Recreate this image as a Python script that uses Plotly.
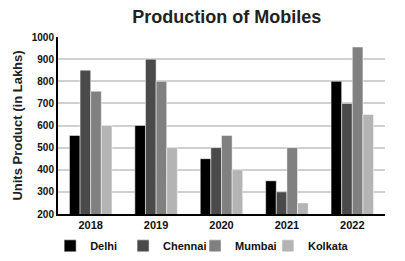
import plotly.graph_objects as go

years = ["2018", "2019", "2020", "2021", "2022"]
delhi = [555, 600, 450, 350, 800]
chennai = [850, 900, 500, 300, 700]
mumbai = [755, 800, 555, 500, 955]
kolkata = [600, 500, 400, 250, 650]

series = [("Delhi", delhi, "#000000"), ("Chennai", chennai, "#4a4a4a"),
          ("Mumbai", mumbai, "#808080"), ("Kolkata", kolkata, "#b4b4b4")]
legend_ids = ["legend", "legend2", "legend3", "legend4"]
legend_x = [-0.024, 0.199, 0.419, 0.642]

fig = go.Figure()
for (name, vals, col), lid in zip(series, legend_ids):
    fig.add_trace(go.Bar(x=years, y=vals, name=name, marker_color=col,
                         marker_line_width=0.5, marker_line_color="white",
                         legend=lid, showlegend=True))

leg_common = dict(orientation="h", y=-0.18, xanchor="left", yanchor="middle",
                  font=dict(size=11, color="#111", weight="bold"),
                  bgcolor="rgba(0,0,0,0)")
legends = {lid: dict(x=lx, **leg_common) for lid, lx in zip(legend_ids, legend_x)}

fig.update_layout(
    width=405, height=261,
    showlegend=True,
    margin=dict(l=58, r=20, t=37, b=47, autoexpand=False),
    paper_bgcolor="white", plot_bgcolor="white",
    font=dict(family="Liberation Sans, Arial", color="#111", size=11),
    title=dict(text="<b>Production of Mobiles</b>", x=0.56, xanchor="center",
               y=0.935, yanchor="middle", font=dict(size=18, color="#222")),
    barmode="group", bargap=0.35, bargroupgap=0,
    xaxis=dict(showline=True, linecolor="black", linewidth=2, ticks="",
               tickfont=dict(size=11, color="#111", weight="bold"), showgrid=False),
    yaxis=dict(range=[200, 1000], dtick=100, showline=True, linecolor="black",
               linewidth=2, gridcolor="#d0d0d0", gridwidth=2, ticks="",
               tickfont=dict(size=10, color="#111", weight="bold"),
               title=dict(text="<b>Units Product (in Lakhs)</b>",
                          font=dict(size=13, color="#222"), standoff=6)),
    **legends,
)
fig.write_html("out.html")
